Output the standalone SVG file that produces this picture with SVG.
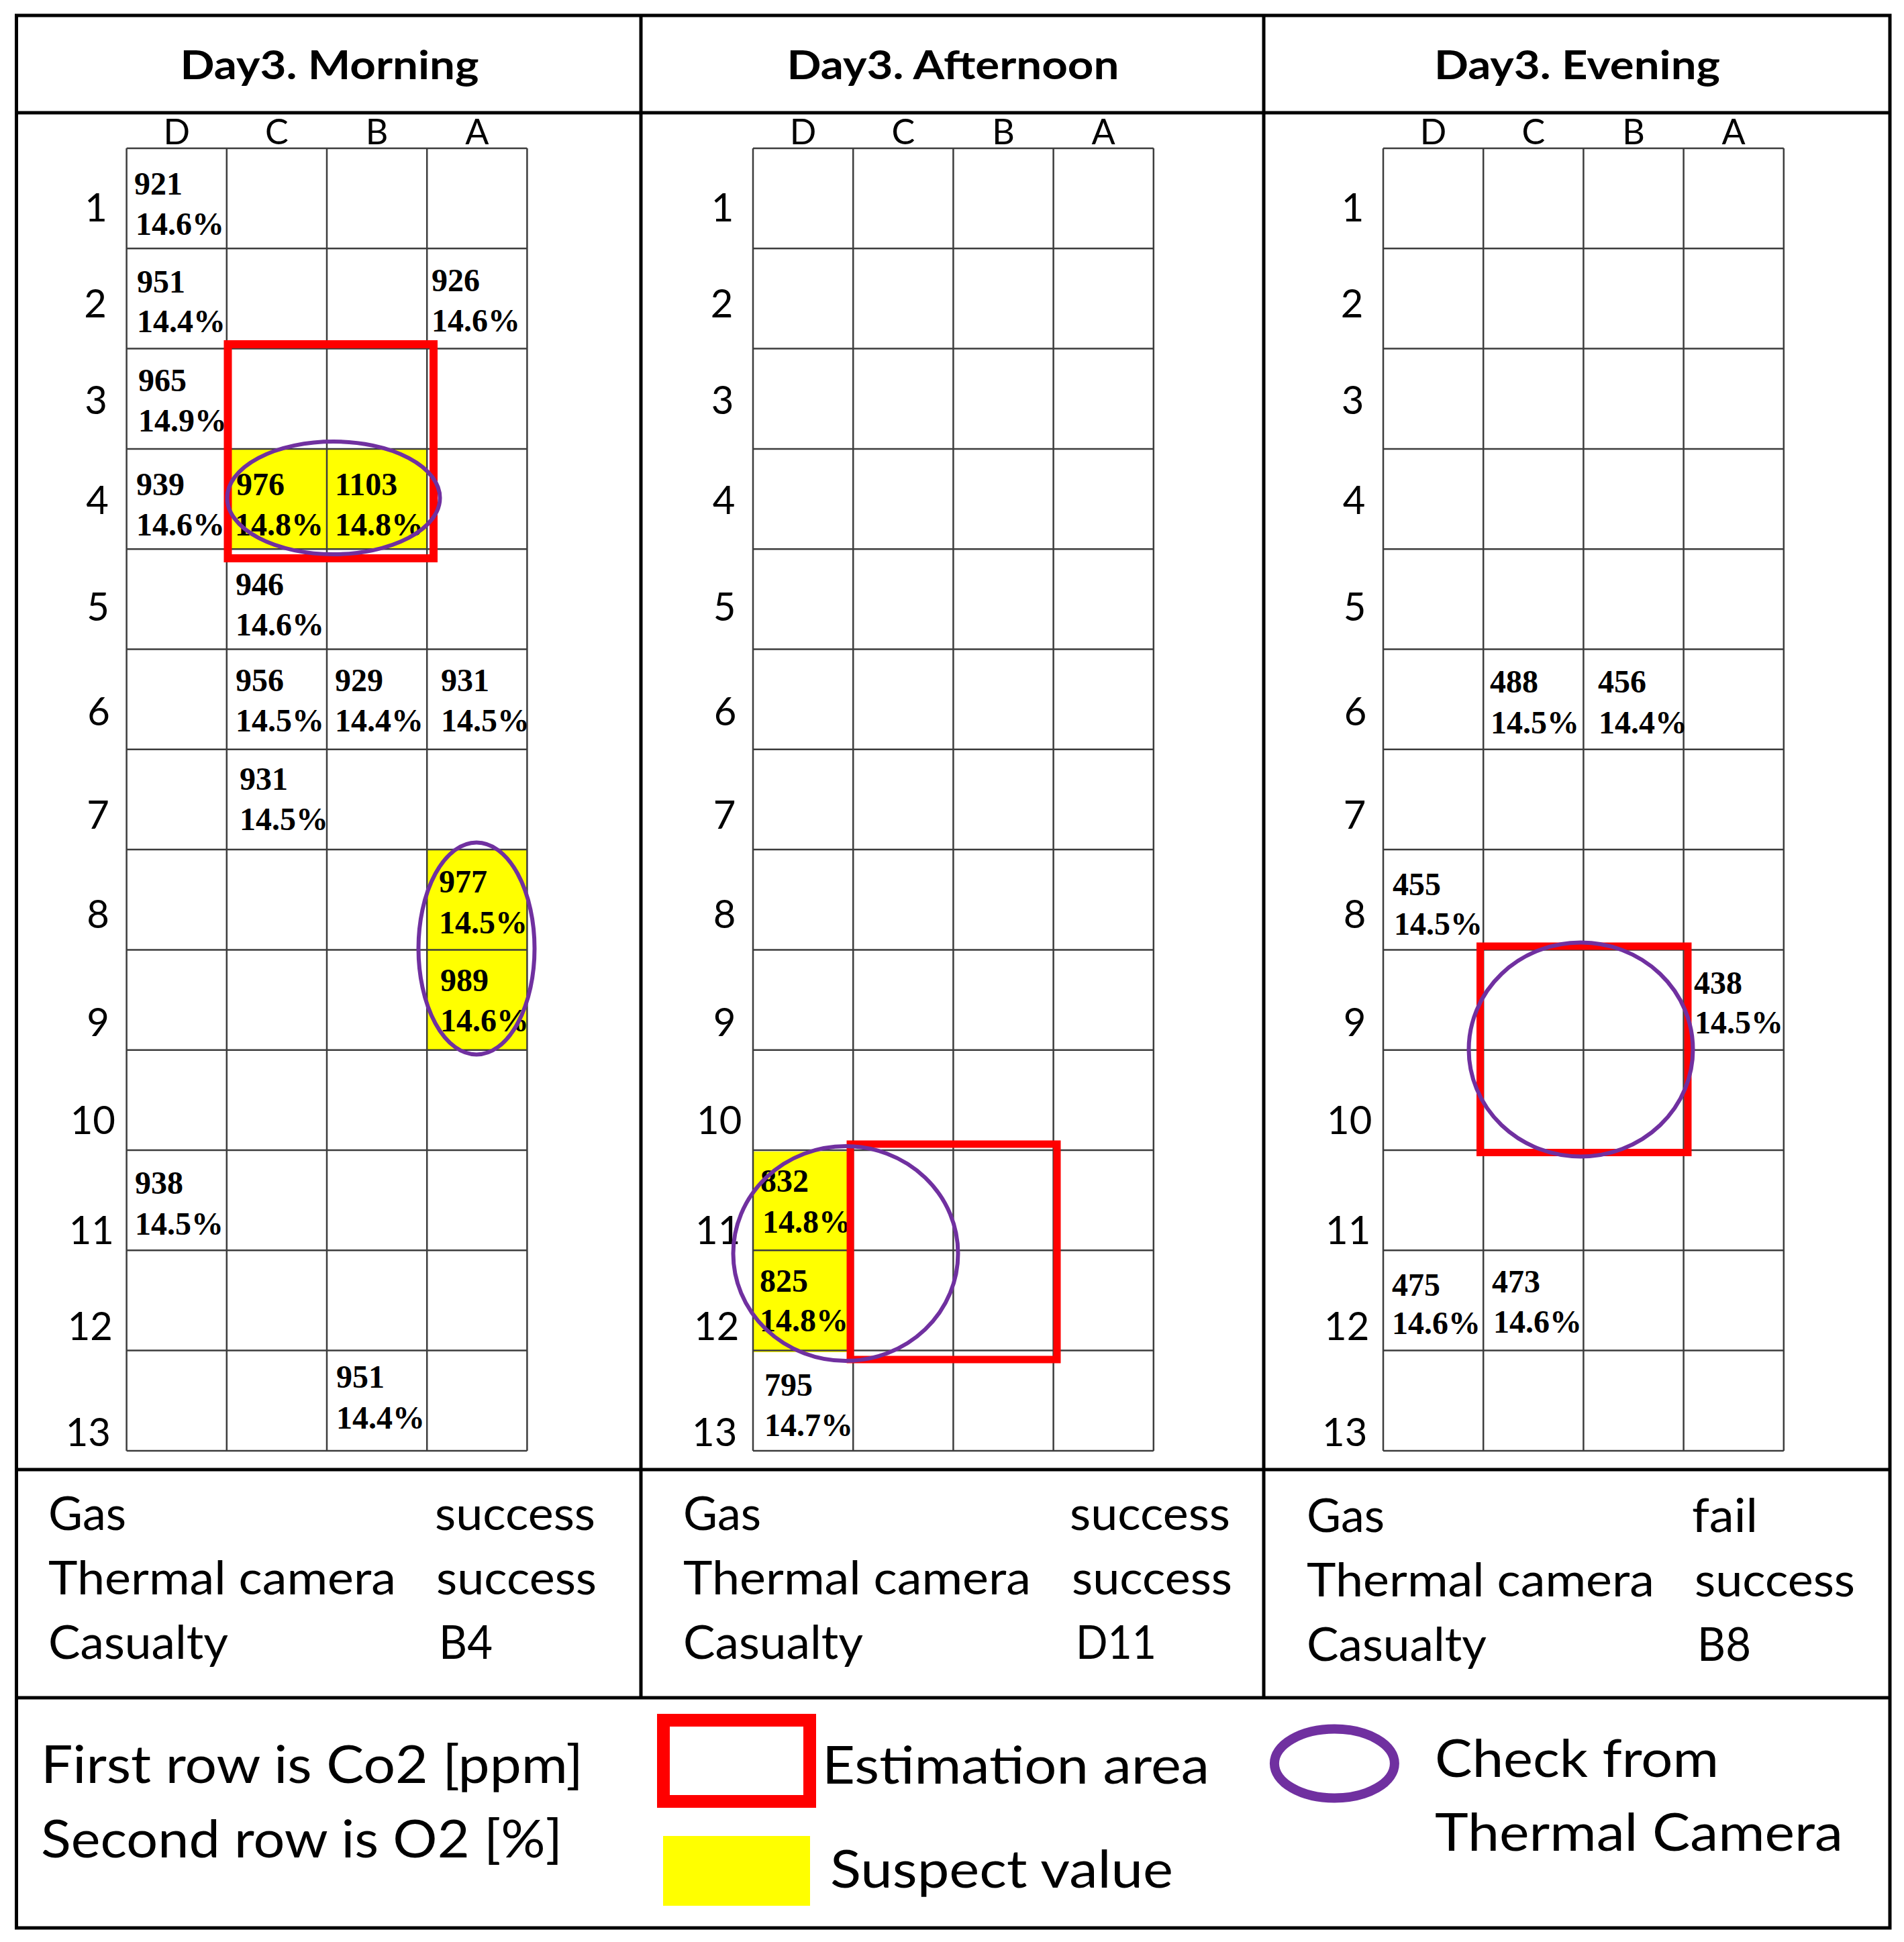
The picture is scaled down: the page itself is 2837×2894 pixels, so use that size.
<svg xmlns="http://www.w3.org/2000/svg" width="2837" height="2894" viewBox="0 0 2837 2894">
<defs>
<style>
.frame{fill:none;stroke:#000;stroke-width:5}
.gl{stroke:#3c3c3c;stroke-width:2.5;fill:none}
.yel{fill:#FFFF00}
.est{fill:none;stroke:#FF0000;stroke-width:12}
.chk{fill:none;stroke:#7030A0;stroke-width:6}
.title{font-family:Lato,"Liberation Sans",sans-serif;font-weight:bold;font-size:60px;text-anchor:middle;fill:#000}
.col{font-family:Lato,"Liberation Sans",sans-serif;font-size:52px;text-anchor:middle;fill:#000}
.row{font-family:Lato,"Liberation Sans",sans-serif;font-size:58px;text-anchor:end;fill:#000}
.val{font-family:"Liberation Serif","Times New Roman",serif;font-weight:bold;font-size:48px;fill:#000}
.st{font-family:Lato,"Liberation Sans",sans-serif;font-size:70px;fill:#000}
.lg{font-family:Lato,"Liberation Sans",sans-serif;font-size:78px;fill:#000}
</style>
<g id="grid">
<path class="gl" d="M188.6 221H785.4M188.6 370.3H785.4M188.6 519.6H785.4M188.6 668.9H785.4M188.6 818.2H785.4M188.6 967.5H785.4M188.6 1116.8H785.4M188.6 1266.1H785.4M188.6 1415.4H785.4M188.6 1564.7H785.4M188.6 1714H785.4M188.6 1863.3H785.4M188.6 2012.6H785.4M188.6 2161.9H785.4M188.6 221V2161.9M337.8 221V2161.9M487 221V2161.9M636.2 221V2161.9M785.4 221V2161.9"/>
</g>
<g id="labels">
<text class="col" x="263.2" y="215">D</text>
<text class="col" x="412.4" y="215">C</text>
<text class="col" x="561.6" y="215">B</text>
<text class="col" x="710.8" y="215">A</text>
<text class="row" x="160" y="330">1</text>
<text class="row" x="159" y="473">2</text>
<text class="row" x="160" y="617">3</text>
<text class="row" x="162" y="766">4</text>
<text class="row" x="163" y="925">5</text>
<text class="row" x="164" y="1081">6</text>
<text class="row" x="163" y="1235">7</text>
<text class="row" x="163" y="1383">8</text>
<text class="row" x="163" y="1544">9</text>
<text class="row" x="172" y="1690">10</text>
<text class="row" x="170" y="1854">11</text>
<text class="row" x="168" y="1997">12</text>
<text class="row" x="165" y="2155">13</text>
</g>
</defs>
<rect width="2837" height="2894" fill="#fff"/>

<g id="frame">
<rect class="frame" x="24.5" y="23" width="2791.5" height="2850"/>
<line class="frame" x1="24.5" y1="168" x2="2816" y2="168"/>
<line class="frame" x1="24.5" y1="2190" x2="2816" y2="2190"/>
<line class="frame" x1="24.5" y1="2530" x2="2816" y2="2530"/>
<line class="frame" x1="955" y1="23" x2="955" y2="2530"/>
<line class="frame" x1="1883" y1="23" x2="1883" y2="2530"/>
</g>

<g id="panel-morning">
<text class="title" x="491" y="118" textLength="445" lengthAdjust="spacingAndGlyphs">Day3. Morning</text>
<rect class="yel" x="337.8" y="668.9" width="298.4" height="149.3"/>
<rect class="yel" x="636.2" y="1266.1" width="149.2" height="298.6"/>
<use href="#grid"/>
<use href="#labels"/>
<g class="val">
<text x="200" y="290">921</text><text x="202" y="350">14.6%</text>
<text x="204" y="436">951</text><text x="204" y="495">14.4%</text>
<text x="643" y="434">926</text><text x="643" y="494">14.6%</text>
<text x="206" y="583">965</text><text x="206" y="643">14.9%</text>
<text x="203" y="738">939</text><text x="203" y="798">14.6%</text>
<text x="352" y="738">976</text><text x="350" y="798">14.8%</text>
<text x="499" y="738">1103</text><text x="499" y="798">14.8%</text>
<text x="351" y="887">946</text><text x="351" y="947">14.6%</text>
<text x="351" y="1030">956</text><text x="351" y="1090">14.5%</text>
<text x="499" y="1030">929</text><text x="499" y="1090">14.4%</text>
<text x="657" y="1030">931</text><text x="657" y="1090">14.5%</text>
<text x="357" y="1177">931</text><text x="357" y="1237">14.5%</text>
<text x="654" y="1330">977</text><text x="654" y="1391">14.5%</text>
<text x="656" y="1477">989</text><text x="656" y="1537">14.6%</text>
<text x="201" y="1779">938</text><text x="201" y="1840">14.5%</text>
<text x="501" y="2068">951</text><text x="501" y="2129">14.4%</text>
</g>
<rect class="est" x="339.5" y="513" width="306.5" height="319"/>
<ellipse class="chk" cx="497" cy="742" rx="158.5" ry="84"/>
<ellipse class="chk" cx="710" cy="1413.5" rx="86.5" ry="158"/>
<g class="st">
<text x="72" y="2280" textLength="116" lengthAdjust="spacingAndGlyphs">Gas</text>
<text x="648" y="2280" textLength="239" lengthAdjust="spacingAndGlyphs">success</text>
<text x="72" y="2376" textLength="518" lengthAdjust="spacingAndGlyphs">Thermal camera</text>
<text x="650" y="2376" textLength="239" lengthAdjust="spacingAndGlyphs">success</text>
<text x="72" y="2472" textLength="268" lengthAdjust="spacingAndGlyphs">Casualty</text>
<text x="654" y="2472" textLength="80" lengthAdjust="spacingAndGlyphs">B4</text>
</g>
</g>

<g id="panel-afternoon">
<text class="title" x="1420" y="118" textLength="495" lengthAdjust="spacingAndGlyphs">Day3. Afternoon</text>
<rect class="yel" x="1122" y="1716" width="149" height="299"/>
<use href="#grid" x="933.4"/>
<use href="#labels" x="933.4"/>
<g class="val">
<text x="1133" y="1776">832</text><text x="1136" y="1837">14.8%</text>
<text x="1132" y="1925">825</text><text x="1132" y="1984">14.8%</text>
<text x="1139" y="2080">795</text><text x="1139" y="2140">14.7%</text>
</g>
<rect class="est" x="1267" y="1705" width="308" height="321" style="stroke-width:11"/>
<ellipse class="chk" cx="1260" cy="1868" rx="167.5" ry="160"/>
<g class="st">
<text x="1018" y="2280" textLength="116" lengthAdjust="spacingAndGlyphs">Gas</text>
<text x="1594" y="2280" textLength="239" lengthAdjust="spacingAndGlyphs">success</text>
<text x="1018" y="2376" textLength="518" lengthAdjust="spacingAndGlyphs">Thermal camera</text>
<text x="1597" y="2376" textLength="239" lengthAdjust="spacingAndGlyphs">success</text>
<text x="1018" y="2472" textLength="268" lengthAdjust="spacingAndGlyphs">Casualty</text>
<text x="1603" y="2472" textLength="120" lengthAdjust="spacingAndGlyphs">D11</text>
</g>
</g>

<g id="panel-evening">
<text class="title" x="2350" y="118" textLength="426" lengthAdjust="spacingAndGlyphs">Day3. Evening</text>
<use href="#grid" x="1872.4"/>
<use href="#labels" x="1872.4"/>
<g class="val">
<text x="2220" y="1032">488</text><text x="2221" y="1093">14.5%</text>
<text x="2381" y="1032">456</text><text x="2382" y="1093">14.4%</text>
<text x="2075" y="1334">455</text><text x="2077" y="1393">14.5%</text>
<text x="2524" y="1481">438</text><text x="2525" y="1540">14.5%</text>
<text x="2074" y="1931">475</text><text x="2074" y="1988">14.6%</text>
<text x="2223" y="1926">473</text><text x="2225" y="1986">14.6%</text>
</g>
<rect class="est" x="2205.5" y="1410" width="309.5" height="307.5" style="stroke-width:11"/>
<ellipse class="chk" cx="2355.5" cy="1564" rx="167" ry="159.5"/>
<g class="st">
<text x="1947" y="2283" textLength="116" lengthAdjust="spacingAndGlyphs">Gas</text>
<text x="2521" y="2283" textLength="98" lengthAdjust="spacingAndGlyphs">fail</text>
<text x="1947" y="2379" textLength="518" lengthAdjust="spacingAndGlyphs">Thermal camera</text>
<text x="2525" y="2379" textLength="239" lengthAdjust="spacingAndGlyphs">success</text>
<text x="1947" y="2475" textLength="268" lengthAdjust="spacingAndGlyphs">Casualty</text>
<text x="2529" y="2475" textLength="80" lengthAdjust="spacingAndGlyphs">B8</text>
</g>
</g>

<g id="legend">
<g class="lg">
<text x="61" y="2657" textLength="808" lengthAdjust="spacingAndGlyphs">First row is Co2 [ppm]</text>
<text x="61" y="2768" textLength="777" lengthAdjust="spacingAndGlyphs">Second row is O2 [%]</text>
<text x="1225" y="2658" textLength="577" lengthAdjust="spacingAndGlyphs">Estimation area</text>
<text x="1237" y="2813" textLength="511" lengthAdjust="spacingAndGlyphs">Suspect value</text>
<text x="2138" y="2648" textLength="423" lengthAdjust="spacingAndGlyphs">Check from</text>
<text x="2138" y="2758" textLength="608" lengthAdjust="spacingAndGlyphs">Thermal Camera</text>
</g>
<rect x="988.5" y="2563.5" width="218" height="121" fill="none" stroke="#FF0000" stroke-width="19"/>
<rect class="yel" x="988" y="2736" width="219" height="104"/>
<ellipse cx="1988.4" cy="2628" rx="89.5" ry="51.5" fill="none" stroke="#7030A0" stroke-width="14"/>
</g>
</svg>
